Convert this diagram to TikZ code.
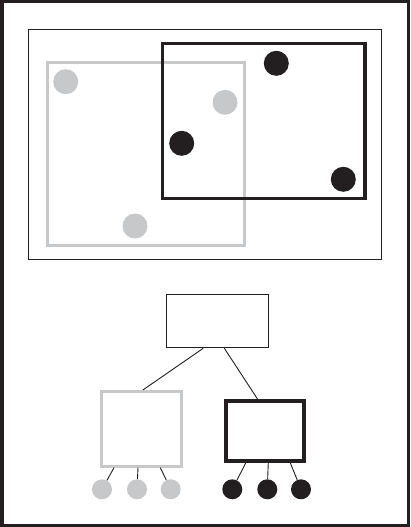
\documentclass[tikz,border=0pt]{standalone}
\usepackage{tikz}
\usetikzlibrary{calc}
\definecolor{setgray}{RGB}{199,200,202}
\definecolor{setblack}{RGB}{35,31,32}
\tikzset{
  thinbox/.style={draw=setblack, line width=1pt, inner sep=0pt},
  graybox/.style={draw=setgray, line width=3pt, inner sep=0pt},
  blackbox/.style={draw=setblack, line width=3.5pt, inner sep=0pt},
  graydot/.style={circle, fill=setgray, minimum size=25pt, inner sep=0pt},
  blackdot/.style={circle, fill=setblack, minimum size=25pt, inner sep=0pt},
  leafg/.style={graydot, minimum size=20pt},
  leafb/.style={blackdot, minimum size=20pt},
  link/.style={draw=setblack, line width=0.9pt}
}

\begin{document}
\begin{tikzpicture}[x=1pt, y=-1pt]
  \useasboundingbox (0,0) rectangle (410,527);
  \draw[setblack, line width=3.5pt] (1.75,1.75) rectangle (408.25,525.25);
  % the two overlapping sets
  \node[thinbox, minimum width=352.4pt, minimum height=229.7pt] (scene) at (205,144.6) {};
  \node[graybox, minimum width=197pt, minimum height=183pt] (setg) at (146,154) {};
  \node[blackbox, minimum width=202.6pt, minimum height=155.2pt] (setb) at (263.7,121) {};
  \foreach \name/\x/\y in {g1/65.7/81.7, g2/225/102.3, g3/135/226}
    \node[graydot] (\name) at (\x,\y) {};
  \foreach \name/\x/\y in {b1/276.3/63.3, b2/181.7/143.3, b3/343.3/179.3}
    \node[blackdot] (\name) at (\x,\y) {};
  % the tree
  \node[thinbox, minimum width=101.4pt, minimum height=53pt] (root) at (217.5,321.3) {};
  \node[graybox, minimum width=79.7pt, minimum height=74.7pt] (left) at (141.3,428.8) {};
  \node[blackbox, minimum width=78pt, minimum height=60pt] (right) at (265,431) {};
  \draw[link] ($(root.south west)!0.36!(root.south east)$) -- ($(left.north west)!0.52!(left.north east)$);
  \draw[link] ($(root.south west)!0.567!(root.south east)$) -- ($(right.north west)!0.41!(right.north east)$);
  \foreach \i/\x/\f in {1/102/0.17, 2/137/0.46, 3/170.7/0.73}{
    \node[leafg] (lg\i) at (\x,489.3) {};
    \draw[link] ($(left.south west)!\f!(left.south east)$) -- (lg\i);
  }
  \foreach \i/\x/\f in {1/232.3/0.265, 2/267.3/0.54, 3/301/0.81}{
    \node[leafb] (lb\i) at (\x,489.3) {};
    \draw[link] ($(right.south west)!\f!(right.south east)$) -- (lb\i);
  }
\end{tikzpicture}
\end{document}
